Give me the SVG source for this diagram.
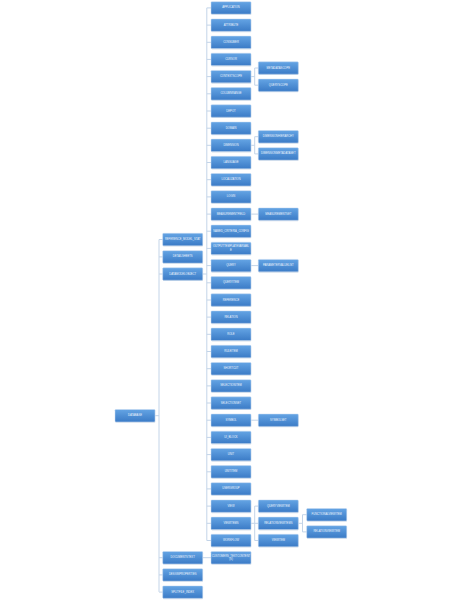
<svg xmlns="http://www.w3.org/2000/svg" width="462" height="600" viewBox="0 0 462 600">
<defs>
<linearGradient id="g" x1="0" y1="0" x2="0" y2="1">
<stop offset="0" stop-color="#64a4e4"/>
<stop offset="1" stop-color="#3b7bc6"/>
</linearGradient>
<symbol id="n" viewBox="0 0 40 12.4" overflow="visible">
<rect x="0.3" y="0.9" width="40" height="12.4" rx="0.8" fill="#d5dfea"/>
<rect x="0" y="0" width="40" height="12.4" rx="0.8" fill="url(#g)" stroke="#c4d9f0" stroke-width="0.5"/>
</symbol>
</defs>
<style>
.c{fill:none;stroke:#c3d4e8;stroke-width:1}
text{font-family:"Liberation Sans",Arial,sans-serif;font-size:2.7px;fill:#eef5fd;text-anchor:middle;dominant-baseline:central}
</style>
<rect width="462" height="600" fill="#ffffff"/>
<g id="connectors">
<path class="c" d="M155 415.7H159M159 239.5V591.9M159 239.5H162.7M159 256.9H162.7M159 274H162.7M159 557.7H162.7M159 574.9H162.7M159 592.1H162.7"/>
<path class="c" d="M202.7 274H206.8M206.8 7.9V540.5M206.8 7.9H211M206.8 25.1H211M206.8 42.3H211M206.8 59.4H211M206.8 76.6H211M206.8 93.8H211M206.8 111H211M206.8 128.2H211M206.8 145.3H211M206.8 162.5H211M206.8 179.7H211M206.8 196.9H211M206.8 214.1H211M206.8 231.2H211M206.8 248.4H211M206.8 265.6H211M206.8 282.8H211M206.8 300H211M206.8 317.1H211M206.8 334.3H211M206.8 351.5H211M206.8 368.7H211M206.8 385.9H211M206.8 403H211M206.8 420.2H211M206.8 437.4H211M206.8 454.6H211M206.8 471.8H211M206.8 488.9H211M206.8 506.1H211M206.8 523.3H211M206.8 540.5H211"/>
<path class="c" d="M202.7 557.7H211"/>
<path class="c" d="M251 76.6H254.7M254.7 68V85.2M254.7 68H258.3M254.7 85.2H258.3"/>
<path class="c" d="M251 145.3H254.7M254.7 136.7V153.9M254.7 136.7H258.3M254.7 153.9H258.3"/>
<path class="c" d="M251 214.1H258.3M251 265.6H258.3M251 420.2H258.3"/>
<path class="c" d="M251 523.3H254.7M254.7 506.1V540.5M254.7 506.1H258.3M254.7 523.3H258.3M254.7 540.5H258.3"/>
<path class="c" d="M298.3 523.3H302.5M302.5 514.7V531.9M302.5 514.7H306.7M302.5 531.9H306.7"/>
</g>
<g id="root"><use href="#n" x="115" y="409.5" width="40" height="12.4"/><text x="135" y="415.7">DATABASE</text></g>
<g id="c1a"><use href="#n" x="162.7" y="233.3" width="40" height="12.4"/><text x="182.7" y="239.5">REFERENCE_MODEL_STAT</text></g>
<g id="c1b"><use href="#n" x="162.7" y="250.7" width="40" height="12.4"/><text x="182.7" y="256.9">DETAILSHEETS</text></g>
<g id="c1c"><use href="#n" x="162.7" y="267.8" width="40" height="12.4"/><text x="182.7" y="274">DATAMODELOBJECT</text></g>
<g id="c1d"><use href="#n" x="162.7" y="551.5" width="40" height="12.4"/><text x="182.7" y="557.7">DOCUMENTSTEXT</text></g>
<g id="c1e"><use href="#n" x="162.7" y="568.7" width="40" height="12.4"/><text x="182.7" y="574.9">DESIGNPROPERTIES</text></g>
<g id="c1f"><use href="#n" x="162.7" y="585.9" width="40" height="12.4"/><text x="182.7" y="592.1">SPLITFILE_INDEX</text></g>
<g id="r0"><use href="#n" x="211" y="1.7" width="40" height="12.4"/><text x="231" y="7.9">APPLICATION</text></g>
<g id="r1"><use href="#n" x="211" y="18.9" width="40" height="12.4"/><text x="231" y="25.1">ATTRIBUTE</text></g>
<g id="r2"><use href="#n" x="211" y="36.1" width="40" height="12.4"/><text x="231" y="42.3">CONSUMER</text></g>
<g id="r3"><use href="#n" x="211" y="53.2" width="40" height="12.4"/><text x="231" y="59.4">CURSOR</text></g>
<g id="r4"><use href="#n" x="211" y="70.4" width="40" height="12.4"/><text x="231" y="76.6">CONTEXTSCOPE</text></g>
<g id="r5"><use href="#n" x="211" y="87.6" width="40" height="12.4"/><text x="231" y="93.8">COLUMNRANGE</text></g>
<g id="r6"><use href="#n" x="211" y="104.8" width="40" height="12.4"/><text x="231" y="111">DEPOT</text></g>
<g id="r7"><use href="#n" x="211" y="122" width="40" height="12.4"/><text x="231" y="128.2">DOMAIN</text></g>
<g id="r8"><use href="#n" x="211" y="139.1" width="40" height="12.4"/><text x="231" y="145.3">DIMENSION</text></g>
<g id="r9"><use href="#n" x="211" y="156.3" width="40" height="12.4"/><text x="231" y="162.5">LANGUAGE</text></g>
<g id="r10"><use href="#n" x="211" y="173.5" width="40" height="12.4"/><text x="231" y="179.7">LOCALIZATION</text></g>
<g id="r11"><use href="#n" x="211" y="190.7" width="40" height="12.4"/><text x="231" y="196.9">LOGIN</text></g>
<g id="r12"><use href="#n" x="211" y="207.9" width="40" height="12.4"/><text x="231" y="214.1">MEASUREMENTFIELD</text></g>
<g id="r13"><use href="#n" x="211" y="225" width="40" height="12.4"/><text x="231" y="231.2">NAMED_CRITERIA_CONFIG</text></g>
<g id="r14"><use href="#n" x="211" y="242.2" width="40" height="12.4"/><text x="231" y="246.8">OUTPUTTEMPLATEVARIABL</text><text x="231" y="250.2">E</text></g>
<g id="r15"><use href="#n" x="211" y="259.4" width="40" height="12.4"/><text x="231" y="265.6">QUERY</text></g>
<g id="r16"><use href="#n" x="211" y="276.6" width="40" height="12.4"/><text x="231" y="282.8">QUERYITEM</text></g>
<g id="r17"><use href="#n" x="211" y="293.8" width="40" height="12.4"/><text x="231" y="300">REFERENCE</text></g>
<g id="r18"><use href="#n" x="211" y="310.9" width="40" height="12.4"/><text x="231" y="317.1">RELATION</text></g>
<g id="r19"><use href="#n" x="211" y="328.1" width="40" height="12.4"/><text x="231" y="334.3">ROLE</text></g>
<g id="r20"><use href="#n" x="211" y="345.3" width="40" height="12.4"/><text x="231" y="351.5">RULEITEM</text></g>
<g id="r21"><use href="#n" x="211" y="362.5" width="40" height="12.4"/><text x="231" y="368.7">SHORTCUT</text></g>
<g id="r22"><use href="#n" x="211" y="379.7" width="40" height="12.4"/><text x="231" y="385.9">SELECTIONITEM</text></g>
<g id="r23"><use href="#n" x="211" y="396.8" width="40" height="12.4"/><text x="231" y="403">SELECTIONSET</text></g>
<g id="r24"><use href="#n" x="211" y="414" width="40" height="12.4"/><text x="231" y="420.2">SYMBOL</text></g>
<g id="r25"><use href="#n" x="211" y="431.2" width="40" height="12.4"/><text x="231" y="437.4">UI_BLOCK</text></g>
<g id="r26"><use href="#n" x="211" y="448.4" width="40" height="12.4"/><text x="231" y="454.6">UNIT</text></g>
<g id="r27"><use href="#n" x="211" y="465.6" width="40" height="12.4"/><text x="231" y="471.8">UNITITEM</text></g>
<g id="r28"><use href="#n" x="211" y="482.7" width="40" height="12.4"/><text x="231" y="488.9">USERGROUP</text></g>
<g id="r29"><use href="#n" x="211" y="499.9" width="40" height="12.4"/><text x="231" y="506.1">VIEW</text></g>
<g id="r30"><use href="#n" x="211" y="517.1" width="40" height="12.4"/><text x="231" y="523.3">VIEWITEMS</text></g>
<g id="r31"><use href="#n" x="211" y="534.3" width="40" height="12.4"/><text x="231" y="540.5">WORKFLOW</text></g>
<g id="r32"><use href="#n" x="211" y="551.5" width="40" height="12.4"/><text x="231" y="556.1">CUSTOMERS_TEXTCONTENT</text><text x="231" y="559.5">(S)</text></g>
<g id="s4a"><use href="#n" x="258.3" y="61.8" width="40" height="12.4"/><text x="278.3" y="68">METADATASCOPE</text></g>
<g id="s4b"><use href="#n" x="258.3" y="79" width="40" height="12.4"/><text x="278.3" y="85.2">QUERYSCOPE</text></g>
<g id="s8a"><use href="#n" x="258.3" y="130.5" width="40" height="12.4"/><text x="278.3" y="136.7">DIMENSIONHIERARCHY</text></g>
<g id="s8b"><use href="#n" x="258.3" y="147.7" width="40" height="12.4"/><text x="278.3" y="153.9">DIMENSIONMETADATASET</text></g>
<g id="s12"><use href="#n" x="258.3" y="207.9" width="40" height="12.4"/><text x="278.3" y="214.1">MEASUREMENTSET</text></g>
<g id="s15"><use href="#n" x="258.3" y="259.4" width="40" height="12.4"/><text x="278.3" y="265.6">PARAMETERVALUELIST</text></g>
<g id="s24"><use href="#n" x="258.3" y="414" width="40" height="12.4"/><text x="278.3" y="420.2">SYMBOLSET</text></g>
<g id="s30a"><use href="#n" x="258.3" y="499.9" width="40" height="12.4"/><text x="278.3" y="506.1">QUERYVIEWITEM</text></g>
<g id="s30b"><use href="#n" x="258.3" y="517.1" width="40" height="12.4"/><text x="278.3" y="523.3">RELATIONVIEWITEMS</text></g>
<g id="s30c"><use href="#n" x="258.3" y="534.3" width="40" height="12.4"/><text x="278.3" y="540.5">VIEWITEM</text></g>
<g id="t1"><use href="#n" x="306.7" y="508.5" width="40" height="12.4"/><text x="326.7" y="514.7">FUNCTIONALVIEWITEM</text></g>
<g id="t2"><use href="#n" x="306.7" y="525.7" width="40" height="12.4"/><text x="326.7" y="531.9">RELATIONVIEWITEM</text></g>
</svg>
